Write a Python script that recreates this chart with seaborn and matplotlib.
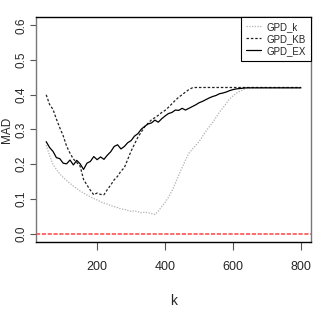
import pandas as pd
import seaborn as sns
import matplotlib.pyplot as plt

# k grid and MAD values
k = [50, 60, 70, 80, 90, 100, 110, 120, 130, 140, 150, 160, 170, 180, 190,
     200, 210, 220, 230, 240, 250, 260, 270, 280, 290, 300, 310, 320, 330, 340,
     350, 360, 370, 380, 390, 400, 410, 420, 430, 440, 450, 460, 470, 480, 490,
     500, 510, 520, 530, 540, 550, 560, 570, 580, 590, 600, 610, 620, 630, 640,
     660, 700, 750, 800]

gpd_k = [0.255, 0.225, 0.200, 0.185, 0.172, 0.162, 0.153, 0.145, 0.137, 0.130,
         0.123, 0.117, 0.111, 0.106, 0.101, 0.097, 0.092, 0.088, 0.085, 0.081,
         0.078, 0.075, 0.071, 0.070, 0.067, 0.064, 0.066, 0.063, 0.060, 0.062,
         0.060, 0.058, 0.055, 0.065, 0.078, 0.090, 0.105, 0.123, 0.145, 0.168,
         0.190, 0.212, 0.232, 0.243, 0.254, 0.265, 0.280, 0.295, 0.308, 0.320,
         0.335, 0.350, 0.362, 0.375, 0.388, 0.397, 0.405, 0.410, 0.415, 0.419,
         0.420, 0.420, 0.420, 0.420]

gpd_kb = [0.400, 0.372, 0.358, 0.330, 0.305, 0.282, 0.252, 0.232, 0.215, 0.205,
          0.194, 0.156, 0.140, 0.125, 0.112, 0.117, 0.113, 0.112, 0.127, 0.140,
          0.155, 0.165, 0.180, 0.190, 0.214, 0.238, 0.258, 0.278, 0.293, 0.308,
          0.318, 0.328, 0.334, 0.341, 0.349, 0.355, 0.364, 0.374, 0.384, 0.393,
          0.400, 0.408, 0.415, 0.420, 0.421, 0.421, 0.421, 0.421, 0.421, 0.421,
          0.421, 0.421, 0.421, 0.421, 0.421, 0.421, 0.421, 0.421, 0.421, 0.421,
          0.421, 0.421, 0.421, 0.421]

gpd_ex = [0.265, 0.248, 0.237, 0.219, 0.216, 0.203, 0.201, 0.212, 0.198, 0.211,
          0.201, 0.185, 0.203, 0.208, 0.222, 0.213, 0.221, 0.214, 0.226, 0.236,
          0.251, 0.256, 0.244, 0.251, 0.262, 0.268, 0.281, 0.288, 0.301, 0.309,
          0.316, 0.319, 0.327, 0.321, 0.331, 0.339, 0.346, 0.349, 0.356, 0.355,
          0.361, 0.356, 0.361, 0.366, 0.371, 0.377, 0.381, 0.386, 0.391, 0.395,
          0.398, 0.403, 0.405, 0.408, 0.412, 0.415, 0.417, 0.418, 0.419, 0.420,
          0.420, 0.420, 0.420, 0.420]

df = pd.DataFrame({"k": k, "GPD_k": gpd_k, "GPD_KB": gpd_kb, "GPD_EX": gpd_ex})

sns.set_style("ticks")
plt.rcParams["font.family"] = ["Liberation Sans Narrow", "Liberation Sans", "DejaVu Sans"]

fig = plt.figure(figsize=(3.2, 3.27), dpi=100)
ax = fig.add_axes([0.1125, 0.26, 0.86, 0.688])

sns.lineplot(data=df, x="k", y="GPD_k", ax=ax, color="#b0b0b0", linestyle=(0, (1, 1.2)),
             linewidth=0.9, label="GPD_k")
sns.lineplot(data=df, x="k", y="GPD_KB", ax=ax, color="#222222", linestyle=(0, (2, 1.5)),
             linewidth=0.9, label="GPD_KB")
sns.lineplot(data=df, x="k", y="GPD_EX", ax=ax, color="black", linestyle="-",
             linewidth=0.9, label="GPD_EX")
ax.axhline(0, color="#ff5050", linestyle=(0, (2.5, 1)), linewidth=1.2)

ax.set_xlim(20, 830)
ax.set_ylim(-0.024, 0.624)
ax.set_xticks([200, 400, 600, 800])
ax.set_yticks([0.0, 0.1, 0.2, 0.3, 0.4, 0.5, 0.6])
ax.set_yticklabels(["0.0", "0.1", "0.2", "0.3", "0.4", "0.5", "0.6"], rotation=90, va="center")
ax.tick_params(axis="x", length=6, width=0.8, labelsize=9, pad=8, color="#555555")
ax.tick_params(axis="y", length=4, width=0.8, labelsize=8.5, pad=2, color="#555555")
ax.set_xlabel("k", fontsize=10)
ax.set_ylabel("MAD", fontsize=8.5)
ax.xaxis.set_label_coords(0.5, -0.23)
ax.yaxis.set_label_coords(-0.083, 0.5)

for side in ["top", "bottom"]:
    ax.spines[side].set_color("black")
    ax.spines[side].set_linewidth(1.0)
for side in ["left", "right"]:
    ax.spines[side].set_visible(True)
    ax.spines[side].set_color("#777777")
    ax.spines[side].set_linewidth(1.0)

leg = ax.legend(loc="upper right", borderaxespad=0, fancybox=False, fontsize=7,
                handlelength=1.6, handletextpad=0.6, labelspacing=0.2,
                borderpad=0.5, framealpha=1)
leg.get_frame().set_edgecolor("black")
leg.get_frame().set_linewidth(0.8)

fig.savefig("out.png", dpi=100)
